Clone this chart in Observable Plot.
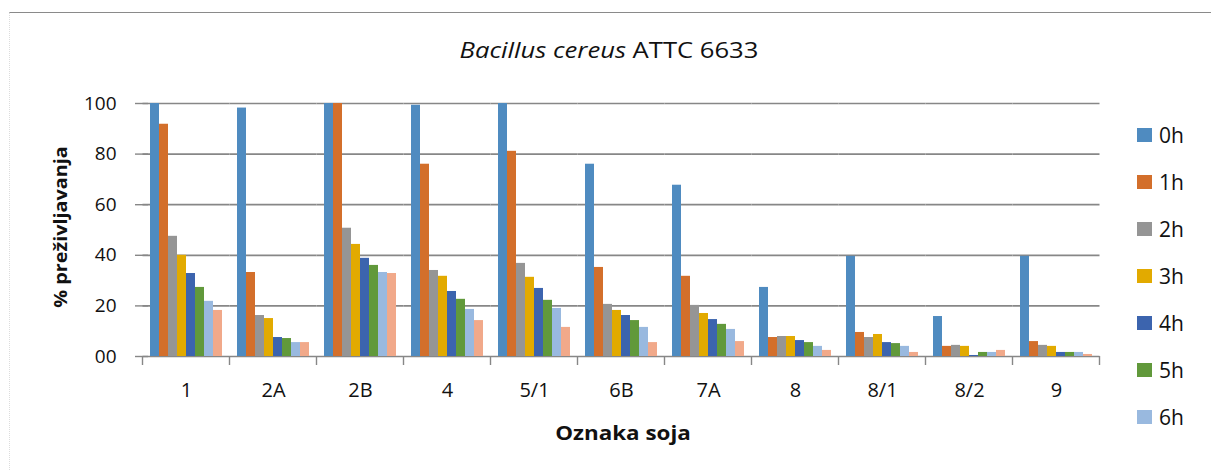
<!DOCTYPE html>
<html>
<head>
<meta charset="utf-8">
<script src="https://cdn.jsdelivr.net/npm/d3@7"></script>
<script src="https://cdn.jsdelivr.net/npm/@observablehq/plot@0.6"></script>
<style>
  html, body { margin: 0; padding: 0; background: #fff; overflow: hidden; }
  body { font-family: "Open Sans", sans-serif; color: #111; }
  #wrap { position: relative; width: 1211px; height: 470px; }
  #frame { position: absolute; left: 9px; top: 12px; right: 0; bottom: 0; border-top: 1.5px solid #8a8a8a; border-left: 1px dotted #dcdcdc; pointer-events: none; }
  #chart { position: absolute; left: 0; top: 0; }
  #title { position: absolute; top: 50px; left: 609px; transform: translate(-50%, -50%) scaleX(1.22); font-size: 21px; white-space: nowrap; }
  #ylabel { position: absolute; left: 60px; top: 227px; transform: translate(-50%, -50%) rotate(-90deg) scaleX(1.1); font-weight: bold; font-size: 18px; white-space: nowrap; }
  #xlabel { position: absolute; left: 623px; top: 433px; transform: translate(-50%, -50%) scaleX(1.18); font-weight: bold; font-size: 19px; white-space: nowrap; }
  #legend { position: absolute; left: 1137px; top: 0; }
  .item { position: absolute; left: 0; display: flex; align-items: center; height: 16px; white-space: nowrap; font-size: 21px; }
  .sw { width: 15px; height: 14px; margin-right: 7px; }
</style>
</head>
<body>
<div id="wrap">
  <div id="frame"></div>
  <div id="chart"></div>
  <div id="title"><i>Bacillus cereus</i> ATTC 6633</div>
  <div id="ylabel">% preživljavanja</div>
  <div id="xlabel">Oznaka soja</div>
  <div id="legend"></div>
</div>
<script>
const strains = ["1", "2A", "2B", "4", "5/1", "6B", "7A", "8", "8/1", "8/2", "9"];
const hours = ["0h", "1h", "2h", "3h", "4h", "5h", "6h", "7h"];
const legendLabels = ["0h", "1h", "2h", "3h", "4h", "5h", "6h"];
const colors = ["#4f8bc0", "#d36f2b", "#959595", "#e2aa00", "#3c64ae", "#61993b", "#99b9df", "#f1a98a"];
const yTicks = [0, 20, 40, 60, 80, 100];

const h0 = [100, 98.2, 100, 99.3, 100, 76.0, 67.7, 27.3, 39.6, 15.8, 39.6];
const h1 = [91.8, 33.2, 100, 76.0, 81.1, 35.2, 31.7, 7.5, 9.5, 4.0, 5.9];
const h2 = [47.5, 16.2, 50.7, 34.0, 36.8, 20.6, 20.2, 7.9, 7.5, 4.4, 4.4];
const h3 = [40.0, 15.0, 44.3, 31.7, 31.3, 18.2, 17.0, 7.9, 8.7, 4.0, 4.0];
const h4 = [32.8, 7.5, 38.8, 25.7, 26.9, 16.2, 14.6, 6.3, 5.5, 0.4, 1.6];
const h5 = [27.3, 7.1, 36.0, 22.6, 22.2, 14.2, 12.7, 5.5, 5.1, 1.6, 1.6];
const h6 = [21.8, 5.5, 33.2, 18.6, 19.0, 11.5, 10.7, 4.0, 4.0, 1.6, 1.6];
const h7 = [18.2, 5.5, 32.8, 14.2, 11.5, 5.5, 5.9, 2.4, 1.6, 2.4, 0.8];
const series = [h0, h1, h2, h3, h4, h5, h6, h7];

const data = strains.flatMap((s, i) => hours.map((h, j) => ({strain: s, hour: h, value: series[j][i]})));

function build(gap) {
  return Plot.plot({
    width: 1211,
    height: 470,
    marginLeft: 145,
    marginRight: 114,
    marginTop: 103,
    marginBottom: 114,
    style: {fontFamily: "Open Sans, sans-serif", fontSize: "19px", color: "#111", background: "transparent"},
    fx: {domain: strains, padding: 0.13, label: null},
    x: {domain: hours, padding: 0, axis: null},
    y: {domain: [0, 100], label: null},
    color: {domain: hours, range: colors},
    marks: [
      Plot.ruleY(yTicks, {stroke: "#878787", strokeWidth: 1.7, insetLeft: -gap, insetRight: -gap}),
      Plot.barY(data, {fx: "strain", x: "hour", y: "value", fill: "hour"}),
      Plot.axisY({ticks: yTicks, tickSize: 13, tickPadding: 19, stroke: "#878787", strokeWidth: 1.4, fill: "#111",
        tickFormat: d => d === 0 ? "00" : String(d), label: null}),
      Plot.axisFx({anchor: "bottom", tickSize: 0, tickPadding: 26, label: null, fill: "#111", fontSize: 20})
    ]
  });
}

// first pass to read the facet band geometry, second pass draws with gridlines bridging the gaps
const probe = build(0);
const fxProbe = probe.scale("fx");
const gapProbe = (fxProbe.step - fxProbe.bandwidth) / 2;
const plot = build(gapProbe);
document.getElementById("chart").appendChild(plot);

// category boundary ticks on the x axis, positioned from the fx scale
const fx = plot.scale("fx");
const gap = (fx.step - fx.bandwidth) / 2;
const bounds = strains.map(s => fx.apply(s) - gap);
bounds.push(fx.apply(strains[strains.length - 1]) + fx.bandwidth + gap);
const y0 = plot.scale("y").apply(0);
d3.select(plot).append("g")
  .selectAll("line").data(bounds).join("line")
  .attr("x1", d => d).attr("x2", d => d)
  .attr("y1", y0).attr("y2", y0 + 9)
  .attr("stroke", "#878787").attr("stroke-width", 1.4);

// legend
const legend = d3.select("#legend");
legendLabels.forEach((lab, i) => {
  const it = legend.append("div").attr("class", "item").style("top", (127 + i * 47) + "px");
  it.append("div").attr("class", "sw").style("background", colors[hours.indexOf(lab)]);
  it.append("span").text(lab);
});
</script>
</body>
</html>
